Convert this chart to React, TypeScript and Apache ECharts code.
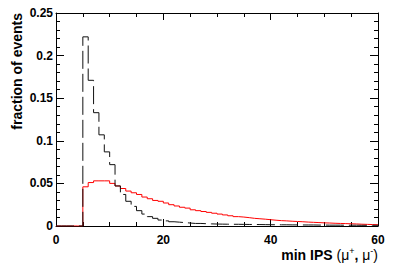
import React, { useEffect, useRef } from "react";
import * as echarts from "echarts";

// Histogram bin lower edges: bins of width 1 from 0 to 60
const binEdges: number[] = [
  0, 1, 2, 3, 4, 5, 6, 7, 8, 9, 10, 11, 12, 13, 14, 15, 16, 17, 18, 19,
  20, 21, 22, 23, 24, 25, 26, 27, 28, 29, 30, 31, 32, 33, 34, 35, 36, 37, 38, 39,
  40, 41, 42, 43, 44, 45, 46, 47, 48, 49, 50, 51, 52, 53, 54, 55, 56, 57, 58, 59,
];
const xMaxEdge = 60;

// Red solid histogram
const redValues: number[] = [
  0, 0, 0, 0, 0, 0.046, 0.051, 0.053, 0.053, 0.053,
  0.05, 0.047, 0.044, 0.041, 0.039, 0.037, 0.034, 0.032, 0.03, 0.029,
  0.027, 0.025, 0.0235, 0.022, 0.021, 0.019, 0.018, 0.017, 0.016, 0.015,
  0.014, 0.013, 0.012, 0.011, 0.0105, 0.0098, 0.009, 0.0085, 0.008, 0.0074,
  0.0068, 0.0063, 0.006, 0.0056, 0.0053, 0.005, 0.0046, 0.0043, 0.004, 0.0037,
  0.0035, 0.0032, 0.003, 0.0028, 0.0026, 0.0024, 0.0021, 0.0019, 0.0017, 0.0015,
];

// Black dashed histogram
const blackValues: number[] = [
  0, 0, 0, 0, 0, 0.222, 0.171, 0.133, 0.107, 0.087,
  0.072, 0.047, 0.037, 0.029, 0.023, 0.018, 0.014, 0.011, 0.009, 0.007,
  0.006, 0.005, 0.0045, 0.004, 0.0035, 0.003, 0.003, 0.0027, 0.0025, 0.0023,
  0.0022, 0.0021, 0.002, 0.002, 0.0019, 0.0018, 0.0018, 0.0017, 0.0016, 0.0015,
  0.0015, 0.0014, 0.0014, 0.0013, 0.0013, 0.0012, 0.0012, 0.0012, 0.0011, 0.0011,
  0.001, 0.001, 0.001, 0.0009, 0.0009, 0.0009, 0.0008, 0.0008, 0.0008, 0.0008,
];

const xTicks = [0, 20, 40, 60];
const yTicks = [0, 0.05, 0.1, 0.15, 0.2, 0.25];
const yTitle = "fraction of events";

function histData(values: number[]): number[][] {
  const d = binEdges.map((e, i) => [e, values[i]]);
  d.push([xMaxEdge, values[values.length - 1]]);
  return d;
}

const FONT = "'Liberation Sans', Arial, Helvetica, sans-serif";

export default function App() {
  const ref = useRef<HTMLDivElement>(null);
  useEffect(() => {
    if (!ref.current) return;
    const chart = echarts.init(ref.current, null, { renderer: "svg" });
    const tickLabel = {
      fontFamily: FONT,
      fontWeight: "bold" as const,
      fontSize: 12,
      color: "#000",
    };
    const xCommon = {
      type: "value" as const,
      min: xTicks[0],
      max: xTicks[xTicks.length - 1],
      interval: 20,
      axisLine: { show: true, onZero: false, lineStyle: { color: "#000", width: 1 } },
      axisTick: { show: true, inside: true, length: 7, lineStyle: { color: "#000" } },
      minorTick: { show: true, splitNumber: 4, length: 4, lineStyle: { color: "#000" } },
      splitLine: { show: false },
    };
    const yCommon = {
      type: "value" as const,
      min: yTicks[0],
      max: yTicks[yTicks.length - 1],
      interval: 0.05,
      axisLine: { show: true, onZero: false, lineStyle: { color: "#000", width: 1 } },
      axisTick: { show: true, inside: true, length: 8, lineStyle: { color: "#000" } },
      minorTick: { show: true, splitNumber: 5, length: 4, lineStyle: { color: "#000" } },
      splitLine: { show: false },
    };
    const aStyle = { fontFamily: FONT, fontWeight: "bold", fontSize: 14, fill: "#000", verticalAlign: "bottom", lineHeight: 16 };
    const nStyle = { fontFamily: FONT, fontWeight: "normal", fontSize: 14, fill: "#000", verticalAlign: "bottom", lineHeight: 16 };
    chart.setOption({
      animation: false,
      backgroundColor: "#fff",
      grid: { left: 56, right: 21, top: 13, bottom: 44, containLabel: false },
      xAxis: [
        {
          ...xCommon,
          position: "bottom",
          axisLabel: { ...tickLabel, margin: 8 },
        },
        {
          ...xCommon,
          position: "top",
          axisLabel: { show: false },
        },
      ],
      yAxis: [
        {
          ...yCommon,
          position: "left",
          axisLabel: {
            ...tickLabel,
            margin: 3,
            formatter: (v: number) => String(Math.round(v * 100) / 100),
          },
        },
        {
          ...yCommon,
          position: "right",
          axisLabel: { show: false },
        },
      ],
      series: [
        {
          type: "line",
          xAxisIndex: 0,
          yAxisIndex: 0,
          step: "end",
          symbol: "none",
          data: histData(redValues),
          lineStyle: { color: "#ff0000", width: 1 },
          z: 3,
        },
        {
          type: "line",
          xAxisIndex: 0,
          yAxisIndex: 0,
          step: "end",
          symbol: "none",
          data: histData(blackValues),
          lineStyle: { color: "#111", width: 1, type: [18, 5] },
          z: 4,
        },
      ],
      graphic: [
        {
          type: "text",
          x: 17,
          y: 13,
          rotation: Math.PI / 2,
          style: {
            text: yTitle,
            fontFamily: FONT,
            fontWeight: "bold",
            fontSize: 14,
            fill: "#000",
            align: "right",
            verticalAlign: "middle",
          },
        },
        {
          type: "text",
          x: 378,
          y: 246,
          style: {
            text: "{a|min IPS }{n|(μ}{s|+}{a|, }{n|μ}{s|-}{n|)}",
            align: "right",
            verticalAlign: "top",
            rich: {
              a: aStyle,
              n: nStyle,
              s: { fontFamily: FONT, fontWeight: "normal", fontSize: 9, fill: "#000", verticalAlign: "top", lineHeight: 16 },
            },
          },
        },
      ],
    });
    return () => chart.dispose();
  }, []);
  return <div ref={ref} style={{ width: 399, height: 270, position: "absolute", left: 0, top: 0 }} />;
}
